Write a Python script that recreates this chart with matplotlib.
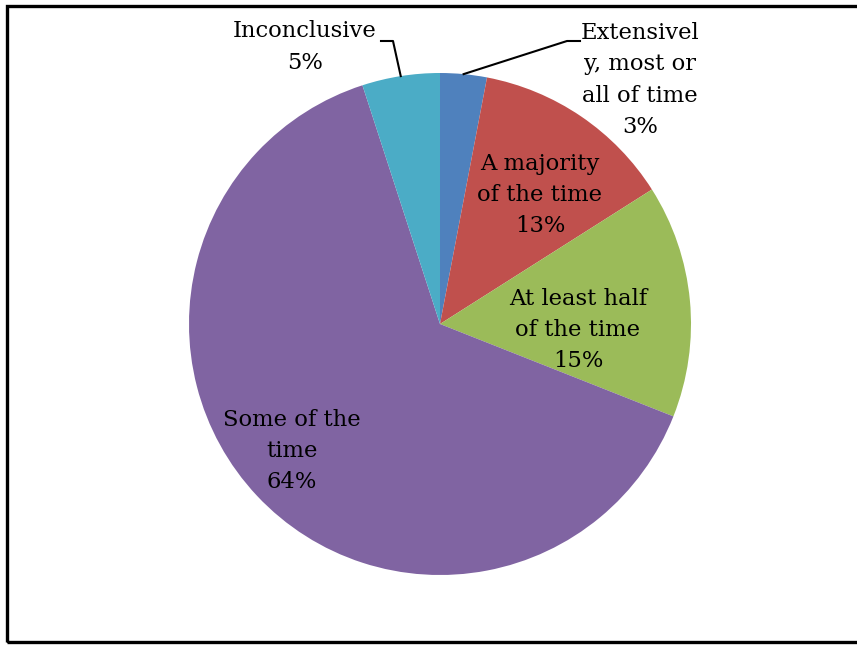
import matplotlib
matplotlib.use("Agg")
import matplotlib.pyplot as plt
from matplotlib.patches import Rectangle
from matplotlib.lines import Line2D
import numpy as np

# Share of time, by category (clockwise from 12 o'clock)
categories = ["Extensivel\ny, most or\nall of time", "A majority\nof the time",
              "At least half\nof the time", "Some of the\ntime", "Inconclusive"]
shares = [3, 13, 15, 64, 5]
colors = ["#4F81BD", "#C0504D", "#9BBB59", "#8064A2", "#4BACC6"]

W, H = 857, 645
fig = plt.figure(figsize=(W / 100, H / 100), dpi=100)
ax = fig.add_axes([0, 0, 1, 1])

cx, cy, R = 440, H - 324, 251

wedges, _ = ax.pie(shares, colors=colors, startangle=90, counterclock=False,
                   center=(cx, cy), radius=R, wedgeprops=dict(linewidth=0))
ax.set_xlim(0, W)
ax.set_ylim(0, H)
ax.set_aspect("auto")
ax.axis("off")

font = dict(family="DejaVu Serif", fontsize=16.3, color="black",
            ha="center", va="center", linespacing=1.55)

def px(x, y):
    return x, H - y

def edge_point(w):
    ang = np.deg2rad((w.theta1 + w.theta2) / 2)
    return cx + R * np.cos(ang), cy + R * np.sin(ang)

labels = [f"{c}\n{v}%" for c, v in zip(categories, shares)]

# label block centres (pixel layout, y measured from top)
label_pos = [(640, 80), (540, 195), (578, 330), (292, 451), (305, 47)]
for lab, (x, y) in zip(labels, label_pos):
    ax.text(*px(x, y), lab, **font)

# leader lines for the two small outside-labelled slices
ex, ey = edge_point(wedges[0])
kx, ky = px(567, 41)
ax.add_line(Line2D([ex, kx, kx + 13], [ey, ky, ky], color="black", lw=1.5))
ix, iy = edge_point(wedges[4])
jx, jy = px(393, 41)
ax.add_line(Line2D([ix, jx, jx - 12], [iy, jy, jy], color="black", lw=1.5))

# outer frame (right side runs past the image edge)
fig.patches.append(Rectangle((6.5 / W, 3.5 / H), 1.2, (639.5 - 3.5) / H,
                             transform=fig.transFigure, fill=False,
                             edgecolor="black", linewidth=2.4))

fig.savefig("out.png", dpi=100)
